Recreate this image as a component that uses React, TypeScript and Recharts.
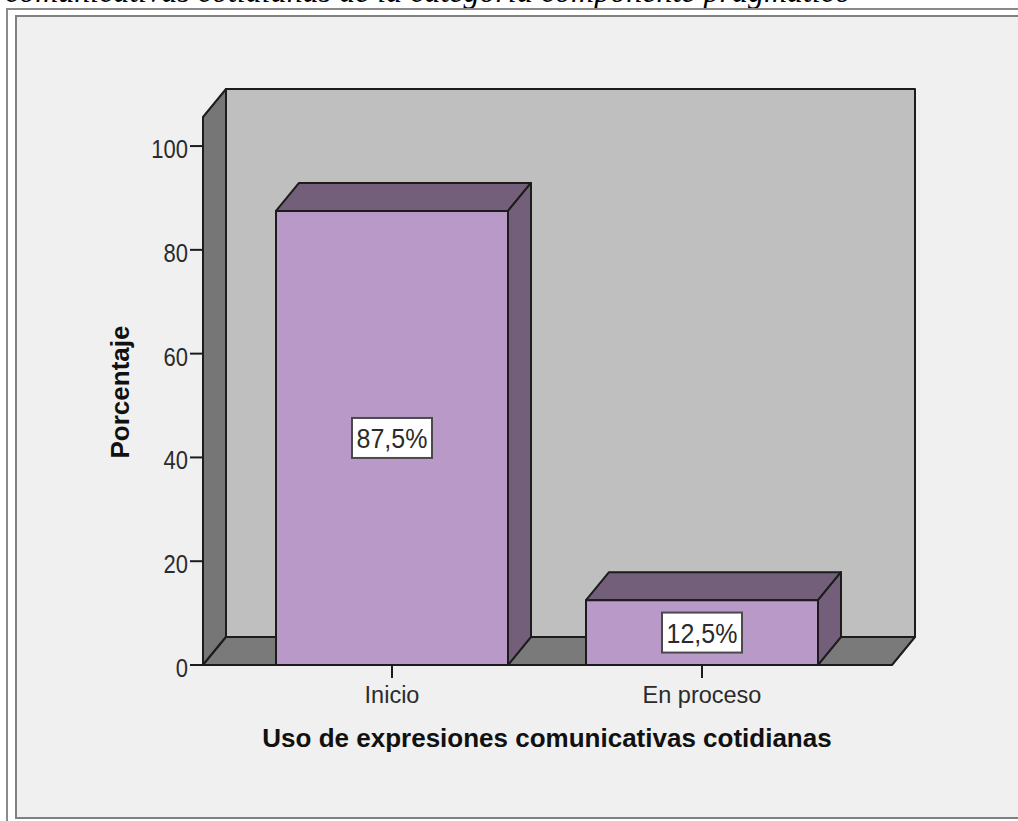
import React from 'react'
import { BarChart, Bar, XAxis, YAxis, LabelList, Label, Customized, usePlotArea } from 'recharts'

const categories = ['Inicio', 'En proceso']
const percentages = [87.5, 12.5]
const percentLabels = ['87,5%', '12,5%']
const yTicks = [0, 20, 40, 60, 80, 100]
const yMax = 105.6

const data = categories.map((name, i) => ({ name, value: percentages[i], label: percentLabels[i] }))

const DEPTH_X = 23
const DEPTH_Y = 28
const INK = '#2b2b2b'
const LINE = '#1c1c1c'
const FONT = '"Liberation Sans", Arial, sans-serif'

// digits in the picture are narrower than Liberation's, hence the stretch
const ChartText = ({ x, y, size = 22, stretch = 1, bold = false, anchor = 'middle', rotate = 0, children }: any) => (
  <text
    transform={`translate(${x},${y}) scale(1,${stretch}) rotate(${rotate})`}
    textAnchor={anchor}
    fontFamily={FONT}
    fontSize={size}
    fontWeight={bold ? 700 : 400}
    fill={bold ? '#111111' : INK}
  >
    {children}
  </text>
)

const pts = (...p: number[][]) => p.map((q) => q.join(',')).join(' ')

// back wall, left wall and floor of the 3D box
const Walls = () => {
  const plot = usePlotArea()
  if (!plot) return null
  const { x, y, width, height } = plot
  const r = x + width
  const b = y + height
  const dx = DEPTH_X
  const dy = DEPTH_Y
  return (
    <g stroke={LINE} strokeWidth={2} strokeLinejoin="round">
      <polygon points={pts([x + dx, y - dy], [r + dx, y - dy], [r + dx, b - dy], [x + dx, b - dy])} fill="#bfbfbf" />
      <polygon points={pts([x, y], [x + dx, y - dy], [x + dx, b - dy], [x, b])} fill="#767676" />
      <polygon points={pts([x, b], [x + dx, b - dy], [r + dx, b - dy], [r, b])} fill="#7a7a7a" />
    </g>
  )
}

const Bar3D = ({ x, y, width, height }: any) => {
  const r = x + width
  const b = y + height
  return (
    <g stroke={LINE} strokeWidth={2} strokeLinejoin="round">
      <polygon points={pts([x, y], [x + DEPTH_X, y - DEPTH_Y], [r + DEPTH_X, y - DEPTH_Y], [r, y])} fill="#735f79" />
      <polygon points={pts([r, y], [r + DEPTH_X, y - DEPTH_Y], [r + DEPTH_X, b - DEPTH_Y], [r, b])} fill="#735f79" />
      <rect x={x} y={y} width={width} height={height} fill="#b899c8" />
    </g>
  )
}

const BoxLabel = ({ x, y, width, height, value }: any) => {
  const cx = x + width / 2
  const cy = y + height / 2
  return (
    <g>
      <rect x={cx - 40} y={cy - 20} width={80} height={40} fill="#ffffff" stroke="#4a4a4a" strokeWidth={2} />
      <ChartText x={cx} y={cy + 10} size={25} stretch={1.12}>{value}</ChartText>
    </g>
  )
}

const XTick = ({ x, payload }: any) => (
  <ChartText x={x} y={703} size={23.5}>{payload.value}</ChartText>
)

const YTick = ({ y, payload }: any) => (
  <ChartText x={188} y={y + 12} stretch={1.18} anchor="end">{payload.value}</ChartText>
)

export default function App() {
  return (
    <div style={{ position: 'absolute', left: 0, top: 0, width: 1018, height: 821, overflow: 'hidden', background: '#fff' }}>
      <div
        style={{
          position: 'absolute',
          left: 5,
          top: -27,
          whiteSpace: 'nowrap',
          fontFamily: '"Liberation Serif", serif',
          fontStyle: 'italic',
          fontSize: 32,
          color: '#000',
        }}
      >
        comunicativas cotidianas de la categoría componente pragmático
      </div>
      <div style={{ position: 'absolute', left: 6, top: 8, width: 1012, height: 813, background: '#fff', borderLeft: '2px solid #8a8a8a', borderTop: '2px solid #8a8a8a', boxSizing: 'border-box' }} />
      <div style={{ position: 'absolute', left: 15, top: 15, width: 1003, height: 804, background: '#f0f0f0', borderLeft: '2px solid #808080', borderTop: '2px solid #808080', borderBottom: '2px solid #808080', boxSizing: 'border-box' }} />
      <BarChart
        width={1018}
        height={821}
        data={data}
        margin={{ top: 117, right: 126, bottom: 96, left: 103 }}
        style={{ position: 'absolute', left: 0, top: 0 }}
      >
        <Customized component={Walls} />
        <XAxis
          dataKey="name"
          padding={{ left: 34, right: 35 }}
          height={60}
          interval={0}
          tick={<XTick />}
          tickSize={13}
          tickLine={{ stroke: LINE, strokeWidth: 2 }}
          axisLine={{ stroke: LINE, strokeWidth: 2 }}
        >
          <Label
            content={() => <ChartText x={547} y={747} size={26} bold>Uso de expresiones comunicativas cotidianas</ChartText>}
          />
        </XAxis>
        <YAxis
          domain={[0, yMax]}
          ticks={yTicks}
          width={100}
          tick={<YTick />}
          tickSize={13}
          tickLine={{ stroke: LINE, strokeWidth: 2 }}
          axisLine={{ stroke: LINE, strokeWidth: 2 }}
          interval={0}
        >
          <Label
            content={() => <ChartText x={129} y={392} size={26} bold rotate={-90}>Porcentaje</ChartText>}
          />
        </YAxis>
        <Bar dataKey="value" barSize={232} shape={<Bar3D />} isAnimationActive={false}>
          <LabelList dataKey="label" content={<BoxLabel />} />
        </Bar>
      </BarChart>
    </div>
  )
}
